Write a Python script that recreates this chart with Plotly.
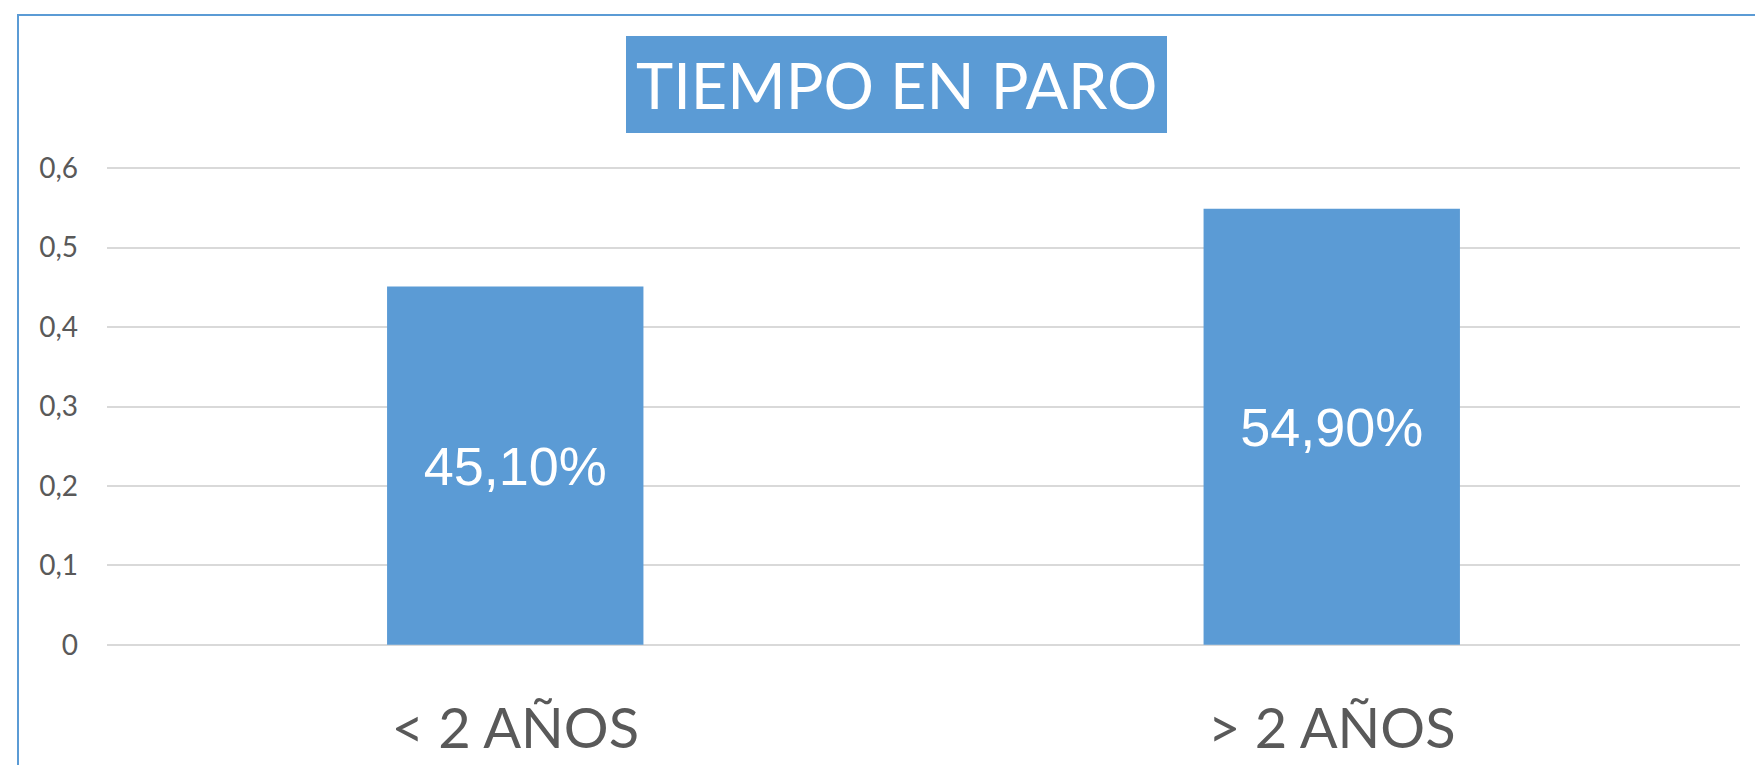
import plotly.graph_objects as go

categories = ["< 2 AÑOS", "> 2 AÑOS"]
values = [0.451, 0.549]
value_labels = ["45,10%", "54,90%"]
y_ticks = [0, 0.1, 0.2, 0.3, 0.4, 0.5, 0.6]
y_tick_labels = ["0", "0,1", "0,2", "0,3", "0,4", "0,5", "0,6"]
title = "TIEMPO EN PARO"

BLUE = "#5B9BD5"
GREY = "#595959"

OFF = 8  # default page body margin
W, H = 1763 - OFF, 765 - OFF
L, T = 107 - OFF, 165 - OFF
R = W - (1740 - OFF)
B = H - (648 - OFF)
pw, ph = W - L - R, H - T - B

def px(x):
    return (x - OFF - L) / pw

def py(y):
    return 1 - (y - OFF - T) / ph

fig = go.Figure()
fig.add_trace(go.Bar(
    x=categories, y=values, text=value_labels,
    textposition="inside", insidetextanchor="middle",
    textfont=dict(family="Liberation Sans, Arial", size=54, color="white"),
    marker=dict(color=BLUE, line=dict(width=0)),
    hoverinfo="skip",
))

fig.update_layout(
    width=W, height=H,
    margin=dict(l=L, r=R, t=T, b=B, autoexpand=False),
    paper_bgcolor="white", plot_bgcolor="white",
    bargap=0.686,
    showlegend=False,
    xaxis=dict(
        showgrid=False, zeroline=False, showline=False, ticks="",
        automargin=False,
        tickfont=dict(family="Lato, Carlito, Calibri", size=56, color=GREY),
        ticklabelstandoff=43,
    ),
    yaxis=dict(
        range=[-0.004, 0.604], tickvals=y_ticks, ticktext=y_tick_labels,
        showgrid=True, gridcolor="#D9D9D9", gridwidth=1.5,
        zeroline=False, showline=False, ticks="", automargin=False,
        tickfont=dict(family="Lato, Carlito, Calibri", size=28, color=GREY),
        ticklabelstandoff=28,
    ),
    shapes=[
        dict(type="rect", xref="paper", yref="paper",
             x0=px(18), x1=px(1800), y0=py(820), y1=py(15),
             line=dict(color=BLUE, width=2), fillcolor="rgba(0,0,0,0)", layer="below"),
        dict(type="rect", xref="paper", yref="paper",
             x0=px(626), x1=px(1167), y0=py(133), y1=py(36),
             line=dict(width=0), fillcolor=BLUE, layer="above"),
    ],
    annotations=[
        dict(text=title, xref="paper", yref="paper",
             x=px(896.5), y=py(84), xanchor="center", yanchor="middle",
             showarrow=False,
             font=dict(family="Lato, Carlito, Calibri", size=63, color="white")),
    ],
)

fig.write_html("out.html")
